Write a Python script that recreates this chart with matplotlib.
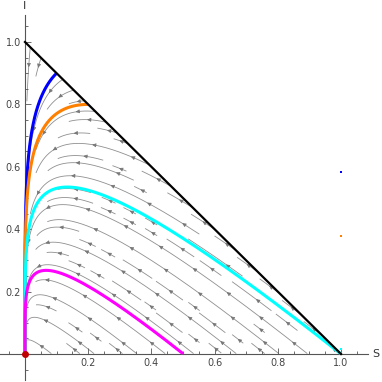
import numpy as np
import matplotlib.pyplot as plt

# --------------------------------------------------
# Model: S-I system with frequency dependent infection
# --------------------------------------------------

beta = 1.0
gamma = 0.2

# initial conditions of highlighted trajectories
s0_list = [0.1, 0.2, 0.999, 0.5]
i0_list = [0.9, 0.8, 0.001, 0.001]
curve_colors = ["#0000ff", "#ff7f00", "#00ffff", "#ff00ff"]

# small stray marks near S = 1
mark_s = [1.0, 1.0, 1.0]
mark_i = [0.583, 0.378, 0.016]
mark_colors = ["#0000ff", "#ff7f00", "#00ffff"]

major_ticks = [0.2, 0.4, 0.6, 0.8, 1.0]


def field(S, I):
    N = S + I
    N = np.where(N > 0, N, 1.0)
    inf = beta * S * I / N
    return -inf, inf - gamma * I


def trajectory(s0, i0, dt=0.01, steps=12000):
    x = np.array([s0, i0], dtype=float)
    out = [x.copy()]
    f = lambda v: np.array(field(v[0], v[1]), dtype=float)
    for _ in range(steps):
        k1 = f(x)
        k2 = f(x + dt / 2 * k1)
        k3 = f(x + dt / 2 * k2)
        k4 = f(x + dt * k3)
        x = x + dt / 6 * (k1 + 2 * k2 + 2 * k3 + k4)
        out.append(x.copy())
    out = np.array(out)
    return out[:, 0], out[:, 1]


# --------------------------------------------------
# Evenly spaced stream lines (StreamPlot look)
# --------------------------------------------------

nc = 29
occ = np.zeros((nc, nc), dtype=bool)


def cell(p):
    return (min(max(int(p[0] * nc), 0), nc - 1),
            min(max(int(p[1] * nc), 0), nc - 1))


def inside(p):
    return p[0] > 0.006 and p[1] > 0.002 and p[0] + p[1] < 0.999


def direction(p, sign):
    u, v = field(p[0], p[1])
    n = np.hypot(u, v)
    if n < 1e-9:
        return None
    return sign * np.array([float(u), float(v)]) / n


def trace(p0, sign, h=0.003, max_len=3.0):
    p = np.array(p0, dtype=float)
    pts = [p]
    cells = {cell(p)}
    length = 0.0
    while length < max_len:
        d1 = direction(p, sign)
        if d1 is None:
            break
        d2 = direction(p + 0.5 * h * d1, sign)
        if d2 is None:
            break
        q = p + h * d2
        if not inside(q):
            break
        c = cell(q)
        if c not in cells and occ[c]:
            break
        cells.add(c)
        pts.append(q)
        p = q
        length += h
    return pts, cells


seeds = []
for sv in np.arange(0.02, 0.99, 0.033):
    seeds.append((sv - 0.004, 1 - sv - 0.004))
for sv in np.arange(0.98, 0.04, -0.045):
    seeds.append((sv, 0.004))
for sv in np.arange(0.02, 1.0, 0.034):
    for iv in np.arange(0.02, 1.0, 0.034):
        if sv + iv < 0.99:
            seeds.append((sv, iv))

stream_lines = []
for sd in seeds:
    if not inside(sd) or occ[cell(sd)]:
        continue
    fwd, c1 = trace(sd, 1)
    bwd, c2 = trace(sd, -1)
    pts = np.array(bwd[::-1] + fwd[1:])
    if len(pts) < 15:
        continue
    for c in c1 | c2:
        occ[c] = True
    stream_lines.append(pts)

# --------------------------------------------------
# Figure
# --------------------------------------------------

fig = plt.figure(figsize=(3.82, 3.82), dpi=100)
ax = fig.add_axes([0, 0, 1, 1])

ax.set_xlim(-0.0791, 1.1297)
ax.set_ylim(-0.0897, 1.1346)

for pts in stream_lines:
    ax.plot(pts[:, 0], pts[:, 1], color="#8f8f8f", lw=0.6, zorder=1)
    seg = np.hypot(np.diff(pts[:, 0]), np.diff(pts[:, 1]))
    arc = np.concatenate([[0], np.cumsum(seg)])
    L = arc[-1]
    if L < 0.12:
        spots = [L / 2]
    else:
        spots = np.arange(0.06, L - 0.03, 0.13)
    for a in spots:
        k = int(np.searchsorted(arc, a))
        k = min(max(k, 2), len(pts) - 1)
        ax.annotate("", xy=pts[k], xytext=pts[k - 2],
                    arrowprops=dict(arrowstyle="-|>", color="#777777",
                                    lw=0.5, mutation_scale=5.5,
                                    shrinkA=0, shrinkB=0),
                    zorder=2)

for s0, i0, c in zip(s0_list, i0_list, curve_colors):
    S, I = trajectory(s0, i0)
    ax.plot(S, I, color=c, lw=2.2, zorder=3, solid_capstyle="butt")

# boundary S + I = 1
ax.plot([0, 1], [1, 0], color="black", lw=1.6, zorder=4)

ax.scatter(mark_s, mark_i, c=mark_colors, s=3, marker="s", lw=0, zorder=4)

# equilibrium at the origin
ax.plot([0], [0], "o", color="#c00000", ms=4, zorder=6, clip_on=False)

# --------------------------------------------------
# Mathematica style axes
# --------------------------------------------------

for side in ["top", "right"]:
    ax.spines[side].set_visible(False)
ax.spines["left"].set_position(("data", 0))
ax.spines["bottom"].set_position(("data", 0))
ax.spines["left"].set_bounds(-0.083, 1.087)
ax.spines["bottom"].set_bounds(-0.079, 1.085)
for side in ["left", "bottom"]:
    ax.spines[side].set_color("#555555")
    ax.spines[side].set_linewidth(0.8)

ax.set_xticks(major_ticks)
ax.set_yticks(major_ticks)
ax.set_xticks(np.arange(-0.05, 1.08, 0.05), minor=True)
ax.set_yticks(np.arange(-0.05, 1.08, 0.05), minor=True)
ax.set_xticklabels([f"{v:.1f}" for v in major_ticks])
ax.set_yticklabels([f"{v:.1f}" for v in major_ticks])
ax.tick_params(which="both", direction="in", color="#555555", labelsize=7,
               labelcolor="#444444", width=0.6)
ax.tick_params(which="major", length=4)
ax.tick_params(which="minor", length=2.2)
ax.tick_params(axis="x", pad=3)
ax.tick_params(axis="y", pad=3)

ax.text(1.1, 0.0, "S", fontsize=8, color="#333333", va="center", ha="left")
ax.text(0.0, 1.1, "I", fontsize=8, color="#333333", va="bottom", ha="center")

fig.savefig("out.png", dpi=100)
